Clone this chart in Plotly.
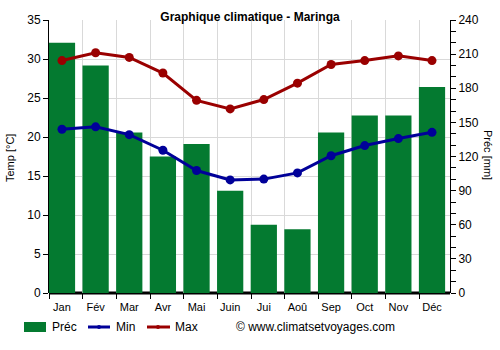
import plotly.graph_objects as go

months = ["Jan", "Fév", "Mar", "Avr", "Mai", "Juin", "Jui", "Aoû", "Sep", "Oct", "Nov", "Déc"]
precip = [220, 200, 141, 120, 131, 90, 60, 56, 141, 156, 156, 181]
tmin = [21.0, 21.3, 20.3, 18.3, 15.7, 14.5, 14.6, 15.4, 17.6, 18.9, 19.8, 20.6]
tmax = [29.8, 30.8, 30.2, 28.2, 24.7, 23.6, 24.8, 26.9, 29.3, 29.8, 30.4, 29.8]

xs = list(range(len(months)))
FONT = "Liberation Sans, Arial, sans-serif"
GREEN = "#047a30"
RED = "#9a0000"
BLUE = "#000099"

L, R, T, B = 49, 450, 20, 293
W, H = R - L, B - T


def px(x):
    return (x - L) / W


def py(y):
    return (B - y) / H


fig = go.Figure()
fig.add_trace(go.Bar(x=xs, y=precip, name="Préc", marker=dict(color=GREEN, line=dict(width=0)),
                     width=0.78, yaxis="y"))
fig.add_trace(go.Scatter(x=xs, y=tmin, name="Min", mode="lines+markers",
                         line=dict(color=BLUE, width=3), marker=dict(size=9, color=BLUE), yaxis="y2"))
fig.add_trace(go.Scatter(x=xs, y=tmax, name="Max", mode="lines+markers",
                         line=dict(color=RED, width=3), marker=dict(size=9, color=RED), yaxis="y2"))

ly = 327
shapes = [
    dict(type="line", xref="paper", yref="paper", x0=0, x1=1, y0=0, y1=0,
         line=dict(color="black", width=3), layer="below"),
    # legend symbols
    dict(type="rect", xref="paper", yref="paper", x0=px(24), x1=px(46), y0=py(322), y1=py(332),
         fillcolor=GREEN, line=dict(width=0)),
    dict(type="line", xref="paper", yref="paper", x0=px(88), x1=px(110), y0=py(ly), y1=py(ly),
         line=dict(color=BLUE, width=3)),
    dict(type="circle", xref="paper", yref="paper", x0=px(97), x1=px(101), y0=py(ly - 2), y1=py(ly + 2),
         fillcolor=BLUE, line=dict(width=0)),
    dict(type="line", xref="paper", yref="paper", x0=px(147), x1=px(170), y0=py(ly), y1=py(ly),
         line=dict(color=RED, width=3)),
    dict(type="circle", xref="paper", yref="paper", x0=px(156), x1=px(160), y0=py(ly - 2), y1=py(ly + 2),
         fillcolor=RED, line=dict(width=0)),
]

def txt(t, x, y, angle=0, size=12, anchor="left"):
    return dict(text=t, xref="paper", yref="paper", x=px(x), y=py(y), xanchor=anchor,
                yanchor="middle", showarrow=False, textangle=angle,
                font=dict(size=size, color="black"))

annotations = [
    txt("Préc", 50, ly),
    txt("Min", 114, ly),
    txt("Max", 173, ly),
    txt("© www.climatsetvoyages.com", 234, ly),
    txt("Temp [°C]", 10, 158, angle=-90, size=11, anchor="center"),
    txt("Préc [mm]", 488, 155, angle=90, size=11, anchor="center"),
]

fig.update_layout(
    width=500, height=350,
    margin=dict(l=L, r=500 - R, t=T, b=350 - B),
    paper_bgcolor="white", plot_bgcolor="white",
    font=dict(family=FONT, size=11, color="black"),
    title=dict(text="<b>Graphique climatique - Maringa</b>", x=0.5, xanchor="center",
               y=1 - 17 / 350, yanchor="middle", font=dict(size=12, color="black")),
    showlegend=False,
    bargap=0.2,
    xaxis=dict(range=[-0.386, 11.535], tickvals=xs, ticktext=months, ticks="",
               showgrid=False, zeroline=False, showline=False,
               tickfont=dict(size=11), ticklabelstandoff=6,
               minor=dict(tick0=0.62, dtick=1, showgrid=True, gridcolor="#d9d9d9", gridwidth=1,
                          ticks="outside", ticklen=5, tickcolor="black")),
    yaxis=dict(range=[0, 240], side="right", tickvals=list(range(0, 241, 30)),
               ticks="outside", ticklen=5, tickcolor="black", tickfont=dict(size=12),
               showgrid=False, zeroline=False, showline=True, linecolor="black", linewidth=1,
               minor=dict(dtick=10, ticks="outside", ticklen=5, tickcolor="black", showgrid=False)),
    yaxis2=dict(range=[0, 35], side="left", overlaying="y", tickvals=list(range(0, 36, 5)),
                ticks="outside", ticklen=5, tickcolor="black", tickfont=dict(size=12),
                showgrid=True, gridcolor="#d9d9d9", zeroline=False,
                showline=True, linecolor="black", linewidth=1),
    annotations=annotations,
    shapes=shapes,
)

fig.write_html("out.html")
